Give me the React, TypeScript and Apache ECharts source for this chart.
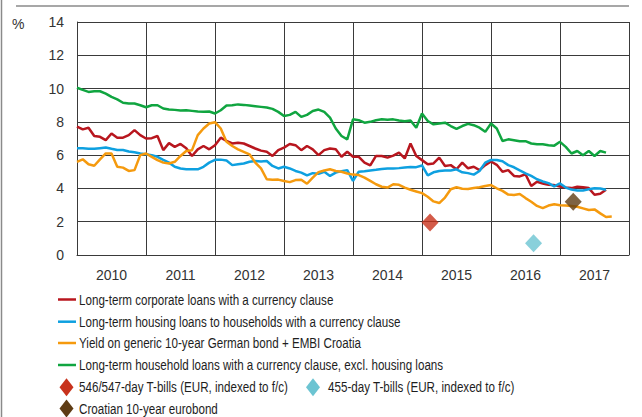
import React, { useEffect, useRef } from 'react';
import * as echarts from 'echarts';

const years = ['2010', '2011', '2012', '2013', '2014', '2015', '2016', '2017'];
const yTicks = { min: 0, max: 14, interval: 2 };

// monthly values, index 0 = Jan 2010
const corporate = [
  7.72, 7.55, 7.65, 7.15, 7.1, 6.9, 7.3, 7.05, 7.05, 7.2,
  7.5, 7.2, 7.0, 7.02, 7.15, 6.3, 6.72, 6.5, 6.67, 6.42,
  5.95, 6.35, 6.55, 6.35, 6.6, 7.05, 6.85, 6.7, 6.75, 6.7,
  6.55, 6.4, 6.27, 6.2, 5.95, 6.3, 6.45, 6.67, 6.6, 6.3,
  6.55, 6.35, 6.0, 6.3, 6.4, 6.35, 5.9, 6.2, 5.9, 5.9,
  5.55, 5.38, 5.95, 5.95, 5.85, 5.97, 6.15, 5.8, 6.7, 5.95,
  5.7, 5.45, 5.5, 5.85, 5.35, 5.4, 5.15, 5.55, 5.21, 5.3,
  5.1, 5.4, 5.62, 5.42, 5.0, 5.1, 4.75, 4.72, 4.85, 4.15,
  4.4, 4.3, 4.22, 4.2, 4.12, 4.05, 4.02, 4.1, 4.07, 4.02,
  3.62, 3.68, 3.92,
];
const housing = [
  6.41, 6.41, 6.39, 6.38, 6.42, 6.46, 6.38, 6.31, 6.31, 6.22,
  6.17, 6.1, 6.05, 6.0, 5.9, 5.72, 5.55, 5.3, 5.2, 5.15,
  5.15, 5.15, 5.3, 5.55, 5.72, 5.73, 5.68, 5.4, 5.45, 5.5,
  5.6, 5.65, 5.62, 5.65, 5.35, 5.2, 5.3, 5.2, 5.05, 4.95,
  4.78, 4.92, 4.88, 5.0, 4.75, 4.95, 5.04, 5.1, 4.45, 5.0,
  5.03, 5.08, 5.12, 5.17, 5.2, 5.2, 5.22, 5.26, 5.29, 5.28,
  5.38, 4.78, 4.97, 5.05, 5.07, 5.08, 5.15, 4.97, 4.92, 4.83,
  5.05, 5.55, 5.71, 5.71, 5.63, 5.4, 5.27, 5.08, 4.9, 4.75,
  4.55, 4.42, 4.32, 4.12, 4.3, 4.05, 3.93, 3.88, 3.88, 3.95,
  4.01, 4.0, 3.92,
];
const yieldBond = [
  5.6, 5.75, 5.45, 5.36, 5.75, 6.1, 6.1, 5.3, 5.25, 5.05,
  5.1, 6.0, 6.1, 5.9, 5.7, 5.55, 5.5, 5.6, 5.95, 6.25,
  6.3, 7.2, 7.6, 7.9, 7.98, 7.6, 6.8, 6.55, 6.35, 6.2,
  6.05, 5.55, 5.2, 4.55, 4.52, 4.53, 4.45, 4.38, 4.5, 4.52,
  4.28, 4.65, 4.98, 5.08, 5.15, 5.05, 5.0, 4.9, 4.83, 4.8,
  4.65, 4.45, 4.25, 4.1, 4.05, 4.25, 4.22, 4.05, 3.92, 3.82,
  3.72, 3.5, 3.22, 3.12, 3.45, 3.95, 4.07, 3.98, 3.96, 4.02,
  4.07, 4.15, 4.2, 4.01, 3.85, 3.63, 3.61, 3.66, 3.42, 3.2,
  2.95, 2.82, 2.97, 3.05, 2.99, 2.98, 2.95, 2.9, 2.8, 2.7,
  2.74, 2.5, 2.28, 2.31,
];
const household = [
  10.05, 9.92, 9.8, 9.84, 9.84, 9.7, 9.5, 9.35, 9.15, 9.1,
  9.1, 9.0, 8.88, 9.0, 9.0, 8.8, 8.74, 8.72, 8.68, 8.7,
  8.66, 8.62, 8.6, 8.62, 8.5, 8.7, 8.98, 9.0, 9.05, 9.02,
  8.98, 8.94, 8.9, 8.86, 8.78, 8.6, 8.35, 8.42, 8.6, 8.3,
  8.42, 8.65, 8.74, 8.6, 8.25, 7.6, 7.15, 6.95, 8.15, 8.1,
  7.95, 8.0, 8.1, 8.15, 8.12, 8.15, 8.08, 8.04, 8.08, 7.65,
  8.5, 8.05, 7.85, 7.9, 7.95, 7.75, 7.58, 7.75, 7.88, 7.8,
  7.65, 7.4, 7.9, 7.6, 6.85, 6.95, 6.9, 6.83, 6.84, 6.7,
  6.65, 6.65, 6.6, 6.57, 6.8, 6.5, 6.1, 6.25, 6.0, 6.25,
  5.95, 6.25, 6.15,
];
// [month index from Jan 2010, value]
const tBills546: [number, number][] = [[61.4, 1.95]];
const tBills455: [number, number][] = [[79.4, 0.7]];
const eurobond: [number, number][] = [[86.3, 3.2]];

const names = {
  corporate: 'Long-term corporate loans with a currency clause',
  housing: 'Long-term housing loans to households with a currency clause',
  yieldBond: 'Yield on generic 10-year German bond + EMBI Croatia',
  household: 'Long-term household loans with a currency clause, excl. housing loans',
  t546: '546/547-day T-bills (EUR, indexed to f/c)',
  t455: '455-day T-bills (EUR, indexed to f/c)',
  eurobond: 'Croatian 10-year eurobond',
};

const colors = {
  corporate: '#b8161e',
  housing: '#0ea0e0',
  yieldBond: '#f59a0e',
  household: '#10a540',
  t546: '#c8321c',
  t455: '#6cc4d2',
  eurobond: '#5e3c14',
};

const toPoints = (arr: number[]) => arr.map((v, i) => [i, v]);

export default function App() {
  const ref = useRef<HTMLDivElement>(null);
  useEffect(() => {
    document.body.style.margin = '0';
    const chart = echarts.init(ref.current!, null, { renderer: 'svg' });

    const rowCenters = [299.5, 321.7, 343, 365, 387.3, 408.5];
    const legendText = (text: string, x: number, y: number) => ({
      type: 'text',
      x,
      y,
      scaleX: 0.775,
      silent: true,
      style: {
        text,
        fontFamily: 'Liberation Sans',
        fontSize: 15,
        fill: '#1e1e1e',
        verticalAlign: 'middle',
        align: 'left',
      },
    });
    const lineIcon = (color: string, y: number) => ({
      type: 'rect',
      shape: { x: 58, y: y - 1.25, width: 18, height: 2.5 },
      style: { fill: color },
      silent: true,
    });
    const diamondIcon = (color: string, cx: number, cy: number) => ({
      type: 'polygon',
      shape: {
        points: [
          [cx - 7, cy],
          [cx, cy - 9],
          [cx + 7, cy],
          [cx, cy + 9],
        ],
      },
      style: { fill: color },
      silent: true,
    });

    const lineSeries = (name: string, data: number[], color: string) => ({
      name,
      type: 'line',
      data: toPoints(data),
      showSymbol: false,
      symbol: 'none',
      color,
      lineStyle: { color, width: 2.5 },
      xAxisIndex: 0,
      yAxisIndex: 0,
    });
    const markerSeries = (name: string, data: [number, number][], color: string) => ({
      name,
      type: 'scatter',
      data,
      symbol: 'diamond',
      symbolSize: [17, 18],
      color,
      itemStyle: { color },
      xAxisIndex: 0,
      yAxisIndex: 0,
      z: 5,
    });
    const gridLine = { color: '#3a3a3a', width: 1 };
    chart.setOption({
      animation: false,
      backgroundColor: '#ffffff',
      grid: { left: 77, right: 13, top: 22, bottom: 162 },
      xAxis: [
        {
          type: 'value',
          min: 0,
          max: 96,
          interval: 12,
          axisLine: { show: true, onZero: false, lineStyle: gridLine },
          axisTick: { show: false },
          axisLabel: { show: false },
          splitLine: { show: true, lineStyle: gridLine },
        },
        {
          type: 'category',
          data: years,
          position: 'bottom',
          boundaryGap: true,
          axisLine: { show: false },
          axisTick: { show: false },
          splitLine: { show: false },
          axisLabel: {
            margin: 13,
            fontFamily: 'Liberation Sans',
            fontSize: 14,
            color: '#333',
          },
        },
      ],
      yAxis: {
        type: 'value',
        min: yTicks.min,
        max: yTicks.max,
        interval: yTicks.interval,
        axisLine: { show: true, lineStyle: gridLine },
        axisTick: { show: false },
        splitLine: { show: true, lineStyle: gridLine },
        axisLabel: {
          margin: 13,
          fontFamily: 'Liberation Sans',
          fontSize: 14,
          color: '#333',
        },
      },
      graphic: [
        {
          type: 'line',
          shape: { x1: 16, y1: 6, x2: 629, y2: 6 },
          style: { stroke: '#8a8a8a', lineWidth: 1.5 },
          silent: true,
        },
        {
          type: 'line',
          shape: { x1: 1.5, y1: 0, x2: 1.5, y2: 417 },
          style: { stroke: '#8a8a8a', lineWidth: 1.5 },
          silent: true,
        },
        {
          type: 'text',
          left: 12,
          top: 17,
          style: {
            text: '%',
            fontFamily: 'Liberation Sans',
            fontSize: 14,
            fill: '#333',
          },
          silent: true,
        },
        lineIcon(colors.corporate, rowCenters[0]),
        legendText(names.corporate, 79, rowCenters[0]),
        lineIcon(colors.housing, rowCenters[1]),
        legendText(names.housing, 79, rowCenters[1]),
        lineIcon(colors.yieldBond, rowCenters[2]),
        legendText(names.yieldBond, 79, rowCenters[2]),
        lineIcon(colors.household, rowCenters[3]),
        legendText(names.household, 79, rowCenters[3]),
        diamondIcon(colors.t546, 66.5, rowCenters[4]),
        legendText(names.t546, 79, rowCenters[4]),
        diamondIcon(colors.t455, 313, rowCenters[4]),
        legendText(names.t455, 328, rowCenters[4]),
        diamondIcon(colors.eurobond, 66.5, rowCenters[5]),
        legendText(names.eurobond, 79, rowCenters[5]),
      ],
      series: [
        lineSeries(names.household, household, colors.household),
        lineSeries(names.corporate, corporate, colors.corporate),
        lineSeries(names.housing, housing, colors.housing),
        lineSeries(names.yieldBond, yieldBond, colors.yieldBond),
        markerSeries(names.t546, tBills546, colors.t546),
        markerSeries(names.t455, tBills455, colors.t455),
        markerSeries(names.eurobond, eurobond, colors.eurobond),
      ],
    });
    return () => chart.dispose();
  }, []);
  return (
    <div
      ref={ref}
      style={{ width: 642, height: 417, position: 'absolute', left: 0, top: 0 }}
    />
  );
}
